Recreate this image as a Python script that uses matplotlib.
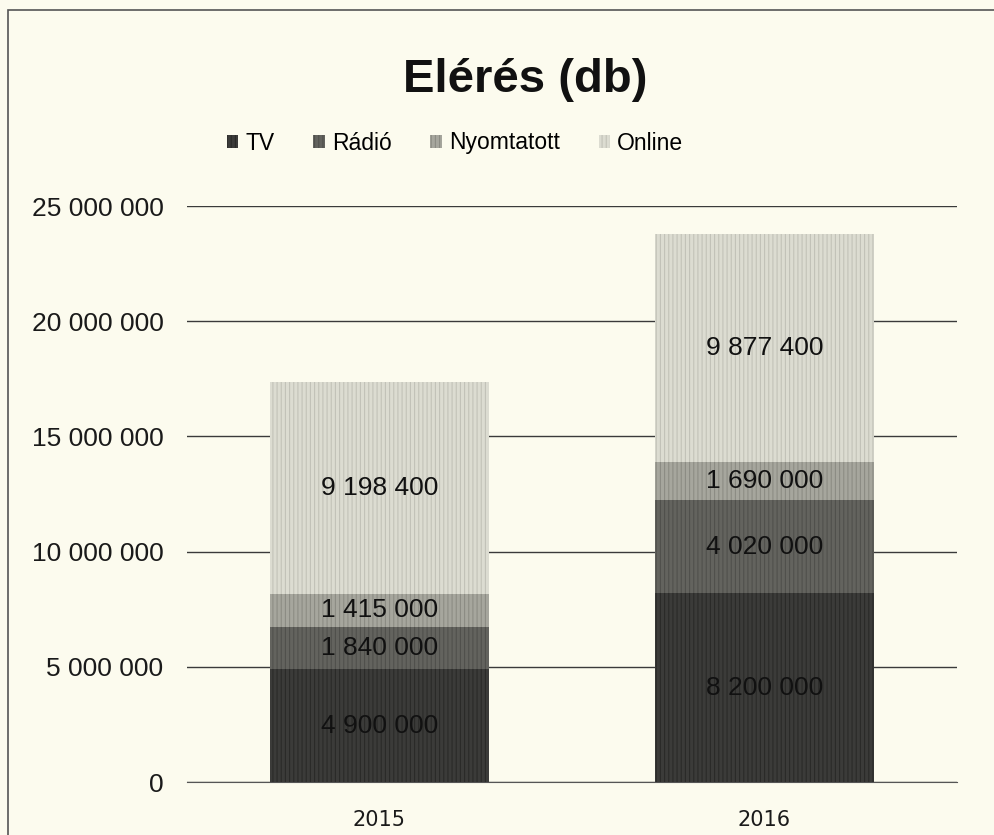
import matplotlib
matplotlib.use("Agg")
import matplotlib.pyplot as plt
from matplotlib.patches import Rectangle
import numpy as np

years = ["2015", "2016"]
series = ["TV", "Rádió", "Nyomtatott", "Online"]
tv = [4900000, 8200000]
radio = [1840000, 4020000]
nyomtatott = [1415000, 1690000]
online = [9198400, 9877400]
labels_text = {
    "TV": ["4 900 000", "8 200 000"],
    "Rádió": ["1 840 000", "4 020 000"],
    "Nyomtatott": ["1 415 000", "1 690 000"],
    "Online": ["9 198 400", "9 877 400"],
}
yticks = [0, 5000000, 10000000, 15000000, 20000000, 25000000]
ytick_labels = ["0", "5 000 000", "10 000 000", "15 000 000", "20 000 000", "25 000 000"]

colors = {"TV": "#3b3b39", "Rádió": "#63635e", "Nyomtatott": "#a6a69d", "Online": "#dcdcd1"}
hatch_colors = {"TV": "#2a2a28", "Rádió": "#50504c", "Nyomtatott": "#8c8c84", "Online": "#c2c2b8"}
values = {"TV": tv, "Rádió": radio, "Nyomtatott": nyomtatott, "Online": online}

bg = "#fcfbee"
fig = plt.figure(figsize=(9.94, 8.35), dpi=100, facecolor=bg)
plt.rcParams['font.family'] = ['Liberation Sans', 'DejaVu Sans']
W, H = 994, 835
ax = fig.add_axes([187 / W, 1 - 782 / H, (957 - 187) / W, (782 - 206) / H])
ax.set_facecolor(bg)

x = np.arange(len(years))
bottom = np.zeros(len(years))
handles = []
for s in series:
    v = np.array(values[s], dtype=float)
    plt.rcParams['hatch.color'] = hatch_colors[s]
    plt.rcParams['hatch.linewidth'] = 0.8
    b = ax.bar(x, v, 0.57, bottom=bottom, color=colors[s], hatch='||||', edgecolor=hatch_colors[s], linewidth=0, label=s, zorder=3)
    handles.append(b)
    for i in range(len(years)):
        ax.text(x[i], bottom[i] + v[i] / 2, labels_text[s][i], ha='center', va='center', fontsize=19, color='#111111', zorder=5)
    bottom += v

ax.set_xlim(-0.5, 1.5)
ax.set_ylim(0, 25000000)
ax.set_yticks(yticks)
ax.set_yticklabels(ytick_labels, fontsize=19, color='#1a1a1a')
ax.set_xticks(x)
ax.set_xticklabels(years, fontsize=15, family='DejaVu Sans', color='#1a1a1a')
ax.tick_params(axis='y', length=0, pad=17)
ax.tick_params(axis='x', length=0, pad=20)
ax.yaxis.grid(True, color='#3a3a3a', linewidth=1.0, zorder=0)
for sp in ['top', 'right', 'left']:
    ax.spines[sp].set_visible(False)
ax.spines['bottom'].set_color('#555555')

fig.text(525 / W, 1 - 80 / H, "Elérés (db)", ha='center', va='center', fontsize=34, fontweight='bold', color='#111111')
leg = fig.legend(handles=handles, labels=series, loc='center', bbox_to_anchor=(455 / W, 1 - 143 / H), ncol=4, frameon=False, fontsize=16.5, handlelength=0.5, handleheight=0.5, handletextpad=0.3, columnspacing=1.7)

fig.patches.append(Rectangle((8 / W, -0.1), 1.2, 1 - 10 / H + 0.1, transform=fig.transFigure, fill=False, edgecolor='#555555', linewidth=1.2))

fig.savefig("out.png", dpi=100, facecolor=bg)
